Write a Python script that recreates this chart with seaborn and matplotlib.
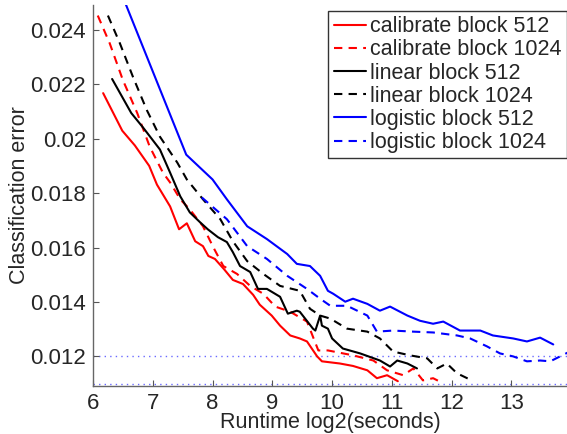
import matplotlib
matplotlib.use("Agg")
import matplotlib.pyplot as plt
import seaborn as sns
import pandas as pd

# runtime (log2 seconds) and classification error
cal512_x = [6.17, 6.49, 6.70, 6.94, 7.07, 7.29, 7.44, 7.57, 7.71, 7.84, 7.93, 8.04, 8.19,
            8.34, 8.51, 8.68, 8.79, 8.99, 9.13, 9.30, 9.46, 9.58, 9.75, 9.83, 10.13,
            10.35, 10.59, 10.75, 10.92, 11.10]
cal512_y = [0.02167, 0.02029, 0.01975, 0.0190, 0.01831, 0.01751, 0.01667, 0.01689, 0.01623,
            0.01605, 0.01569, 0.01558, 0.01521, 0.01481, 0.01466, 0.01426, 0.0139, 0.0135,
            0.01313, 0.01277, 0.01266, 0.01255, 0.0120, 0.01182, 0.01174, 0.01165, 0.01149,
            0.0112, 0.01131, 0.01109]

cal1024_x = [6.08, 6.28, 6.50, 6.74, 6.95, 7.17, 7.29, 7.46, 7.62, 7.84, 8.01, 8.18, 8.41,
             8.63, 8.85, 9.05, 9.30, 9.58, 9.77, 9.93, 10.35, 10.69, 10.92, 11.19, 11.36,
             11.52, 11.69, 11.86]
cal1024_y = [0.02452, 0.0235, 0.02215, 0.02094, 0.0197, 0.01875, 0.01839, 0.01777, 0.0174,
             0.01678, 0.01602, 0.01532, 0.01503, 0.01459, 0.0143, 0.01383, 0.01364, 0.01328,
             0.01222, 0.01222, 0.01204, 0.01185, 0.01149, 0.01131, 0.01156, 0.01112, 0.0112,
             0.01101]

lin512_x = [6.32, 6.64, 6.84, 7.12, 7.29, 7.46, 7.62, 7.79, 7.92, 8.09, 8.24, 8.34, 8.46,
            8.63, 8.76, 8.91, 9.13, 9.26, 9.41, 9.46, 9.68, 9.72, 9.80, 9.83, 9.93, 10.0,
            10.18, 10.47, 10.80, 10.97, 11.09, 11.26, 11.42]
lin512_y = [0.02219, 0.02094, 0.0204, 0.0196, 0.01875, 0.01788, 0.01729, 0.01693, 0.01667,
            0.01638, 0.0162, 0.01583, 0.01532, 0.0151, 0.01448, 0.01448, 0.01419, 0.01357,
            0.01368, 0.01364, 0.01302, 0.01295, 0.0135, 0.01313, 0.01302, 0.01266, 0.01229,
            0.01211, 0.01185, 0.01163, 0.01185, 0.01174, 0.01156]

lin1024_x = [6.25, 6.45, 6.67, 6.90, 7.12, 7.41, 7.57, 7.84, 8.13, 8.34, 8.58, 8.85, 9.13,
             9.46, 9.63, 9.80, 9.97, 10.25, 10.59, 10.80, 11.02, 11.30, 11.59, 11.76, 11.92,
             12.09, 12.26, 12.35]
lin1024_y = [0.02452, 0.0235, 0.02226, 0.02105, 0.02007, 0.01912, 0.0185, 0.01777, 0.01704,
             0.01623, 0.0155, 0.01503, 0.01459, 0.01441, 0.01375, 0.0135, 0.01339, 0.01302,
             0.01291, 0.01266, 0.01218, 0.01204, 0.01193, 0.01156, 0.01174, 0.01138, 0.0112,
             0.01112]

log512_x = [6.50, 7.56, 8.0, 8.24, 8.58, 8.91, 9.25, 9.41, 9.63, 9.80, 9.93, 10.02, 10.22,
            10.35, 10.59, 10.80, 10.97, 11.26, 11.47, 11.69, 11.86, 12.14, 12.48, 12.69,
            13.03, 13.26, 13.48, 13.70]
log512_y = [0.0252, 0.01941, 0.0185, 0.01777, 0.01678, 0.01631, 0.01576, 0.0154, 0.01532,
            0.01496, 0.01441, 0.0143, 0.01401, 0.01412, 0.01393, 0.01368, 0.01383, 0.0135,
            0.01331, 0.0132, 0.01328, 0.01295, 0.01295, 0.01277, 0.01266, 0.01255, 0.01269,
            0.01244]

log1024_x = [7.82, 8.24, 8.58, 8.91, 9.25, 9.58, 9.80, 9.97, 10.25, 10.59, 10.75, 11.02,
             11.36, 11.69, 12.09, 12.31, 12.59, 12.81, 13.03, 13.26, 13.48, 13.65, 13.85, 13.95]
log1024_y = [0.01784, 0.01704, 0.01605, 0.01558, 0.01496, 0.01448, 0.01412, 0.01386, 0.01386,
             0.0135, 0.01291, 0.01295, 0.01291, 0.01288, 0.01277, 0.01266, 0.01237, 0.01211,
             0.012, 0.01182, 0.01185, 0.01182, 0.01204, 0.01215]

series = [
    ("calibrate block 512", cal512_x, cal512_y, "#ff0000", "-"),
    ("calibrate block 1024", cal1024_x, cal1024_y, "#ff0000", "--"),
    ("linear block 512", lin512_x, lin512_y, "#000000", "-"),
    ("linear block 1024", lin1024_x, lin1024_y, "#000000", "--"),
    ("logistic block 512", log512_x, log512_y, "#0000ff", "-"),
    ("logistic block 1024", log1024_x, log1024_y, "#0000ff", "--"),
]

sns.set_style("white")
plt.rcParams["font.family"] = ["Liberation Sans", "DejaVu Sans"]

fig = plt.figure(figsize=(5.67, 4.34), dpi=100)
ax = fig.add_axes([0.164, 0.111, 0.836, 0.877])

for label, xs, ys, color, ls in series:
    df = pd.DataFrame({"x": xs, "y": ys})
    sns.lineplot(data=df, x="x", y="y", ax=ax, color=color, label=label,
                 linewidth=1.5, sort=False)
    if ls == "--":
        ax.lines[-1].set_linestyle("--")
        ax.lines[-1].set_dashes((4, 3))

# dotted reference lines
for yv in (0.012, 0.011):
    ax.axhline(yv, color="#6a6aff", linestyle=(0, (1, 3)), linewidth=1.0, zorder=0)

ax.set_xlim(6, 13.93)
ax.set_ylim(0.01092, 0.0249)
ax.set_xticks([6, 7, 8, 9, 10, 11, 12, 13])
ax.set_yticks([0.012, 0.014, 0.016, 0.018, 0.02, 0.022, 0.024])
ax.set_yticklabels(["0.012", "0.014", "0.016", "0.018", "0.02", "0.022", "0.024"])
ax.tick_params(direction="in", length=4, width=0.8, color="#555555",
               labelsize=16, pad=5, left=True, bottom=True)
ax.set_xlabel("Runtime log2(seconds)", fontsize=15.5, labelpad=-1)
ax.set_ylabel("Classification error", fontsize=15.5, labelpad=0.5)

for side in ("top", "right"):
    ax.spines[side].set_visible(False)
for side in ("left", "bottom"):
    ax.spines[side].set_color("#666666")
    ax.spines[side].set_linewidth(1.0)

leg = ax.legend(loc="upper right", bbox_to_anchor=(1.0, 0.985), fontsize=15.5,
                frameon=True, fancybox=False, handlelength=1.5, handletextpad=0.2,
                labelspacing=0.1, borderpad=0.25, borderaxespad=0.0)
leg.get_frame().set_edgecolor("black")
leg.get_frame().set_linewidth(1.0)

fig.savefig("out.png", dpi=100)
